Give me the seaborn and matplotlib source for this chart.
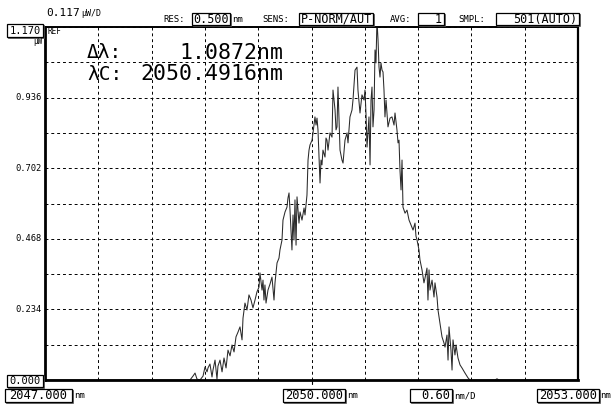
import numpy as np
import pandas as pd
import matplotlib
matplotlib.use("Agg")
import matplotlib.pyplot as plt
from matplotlib.patches import Rectangle
import seaborn as sns

# Sweep / display settings
wl_start, wl_center, wl_stop = 2047.000, 2050.000, 2053.000
span_per_div = 0.60
ref_level = 1.170
level_per_div = 0.117
y_label_values = ["1.170", "0.936", "0.702", "0.468", "0.234", "0.000"]

# Measured spectrum (nm, µW)
wavelength_nm = [
    2047.000, 2048.632, 2048.666, 2048.689, 2048.711, 2048.745, 2048.779, 2048.801, 2048.824, 2048.835,
    2048.857, 2048.880, 2048.891, 2048.914, 2048.936, 2048.947, 2048.970, 2048.993, 2049.015, 2049.038,
    2049.060, 2049.083, 2049.105, 2049.128, 2049.150, 2049.173, 2049.195, 2049.218, 2049.229, 2049.251,
    2049.274, 2049.296, 2049.319, 2049.341, 2049.364, 2049.386, 2049.409, 2049.420, 2049.443, 2049.454,
    2049.465, 2049.476, 2049.488, 2049.510, 2049.533, 2049.555, 2049.578, 2049.589, 2049.612, 2049.634,
    2049.645, 2049.668, 2049.679, 2049.702, 2049.724, 2049.735, 2049.747, 2049.758, 2049.780, 2049.792,
    2049.803, 2049.814, 2049.826, 2049.837, 2049.859, 2049.871, 2049.893, 2049.916, 2049.927, 2049.949,
    2049.961, 2049.972, 2049.983, 2050.006, 2050.017, 2050.039, 2050.051, 2050.062, 2050.073, 2050.096,
    2050.107, 2050.118, 2050.129, 2050.152, 2050.163, 2050.174, 2050.186, 2050.208, 2050.231, 2050.242,
    2050.265, 2050.276, 2050.287, 2050.298, 2050.321, 2050.343, 2050.355, 2050.377, 2050.400, 2050.411,
    2050.433, 2050.456, 2050.467, 2050.490, 2050.512, 2050.523, 2050.546, 2050.568, 2050.591, 2050.602,
    2050.614, 2050.625, 2050.647, 2050.659, 2050.670, 2050.681, 2050.692, 2050.704, 2050.715, 2050.726,
    2050.737, 2050.749, 2050.760, 2050.771, 2050.782, 2050.794, 2050.805, 2050.816, 2050.827, 2050.839,
    2050.861, 2050.884, 2050.906, 2050.929, 2050.940, 2050.962, 2050.974, 2050.985, 2050.996, 2051.008,
    2051.019, 2051.030, 2051.053, 2051.075, 2051.098, 2051.120, 2051.143, 2051.165, 2051.176, 2051.188,
    2051.210, 2051.221, 2051.244, 2051.266, 2051.278, 2051.300, 2051.311, 2051.323, 2051.334, 2051.357,
    2051.379, 2051.390, 2051.413, 2051.424, 2051.446, 2051.469, 2051.491, 2051.503, 2051.525, 2051.537,
    2051.548, 2051.570, 2051.582, 2051.593, 2051.615, 2051.627, 2051.649, 2051.672, 2051.694, 2051.728,
    2051.762, 2051.784, 2052.066, 2052.088, 2052.110, 2053.000,
]
power_uw = [
    0.000, 0.000, 0.013, 0.023, 0.003, 0.000, 0.013, 0.043, 0.027, 0.040,
    0.053, 0.010, 0.033, 0.066, 0.003, 0.046, 0.066, 0.027, 0.073, 0.040,
    0.099, 0.080, 0.116, 0.093, 0.143, 0.159, 0.176, 0.133, 0.205, 0.255,
    0.232, 0.282, 0.265, 0.239, 0.265, 0.292, 0.308, 0.355, 0.298, 0.331,
    0.265, 0.315, 0.255, 0.298, 0.318, 0.341, 0.265, 0.322, 0.388, 0.404,
    0.431, 0.464, 0.530, 0.557, 0.573, 0.603, 0.620, 0.563, 0.431, 0.547,
    0.464, 0.597, 0.447, 0.607, 0.520, 0.557, 0.530, 0.570, 0.547, 0.613,
    0.729, 0.762, 0.779, 0.795, 0.819, 0.872, 0.845, 0.868, 0.829, 0.653,
    0.729, 0.713, 0.762, 0.739, 0.802, 0.795, 0.762, 0.819, 0.805, 0.961,
    0.895, 0.829, 0.839, 0.971, 0.762, 0.729, 0.719, 0.795, 0.819, 0.786,
    0.872, 0.895, 0.928, 1.027, 1.037, 0.961, 0.885, 0.945, 0.928, 0.961,
    0.878, 0.772, 0.872, 0.713, 0.928, 0.971, 0.839, 0.895, 1.094, 1.051,
    1.193, 1.127, 1.037, 1.004, 1.051, 1.027, 1.021, 0.961, 0.872, 0.928,
    0.839, 0.868, 0.872, 0.845, 0.885, 0.829, 0.786, 0.795, 0.696, 0.630,
    0.729, 0.573, 0.553, 0.563, 0.530, 0.514, 0.497, 0.520, 0.477, 0.464,
    0.431, 0.398, 0.365, 0.322, 0.338, 0.371, 0.265, 0.365, 0.298, 0.331,
    0.275, 0.322, 0.275, 0.232, 0.189, 0.143, 0.123, 0.109, 0.149, 0.066,
    0.176, 0.099, 0.033, 0.133, 0.083, 0.116, 0.073, 0.050, 0.040, 0.023,
    0.007, 0.000, 0.000, 0.004, 0.000, 0.000,
]

# Analysis results
delta_lambda = "1.0872nm"
center_lambda = "2050.4916nm"

sns.set_style("white")
plt.rcParams["font.family"] = ["DejaVu Sans Mono", "DejaVu Sans"]

W, H = 612, 405
fig = plt.figure(figsize=(W / 100, H / 100), dpi=100)
fig.patch.set_facecolor("white")

L, R, T, B = 45, 578, 27, 380
ax = fig.add_axes([L / W, 1 - B / H, (R - L) / W, (B - T) / H])

df = pd.DataFrame({"wavelength": wavelength_nm, "power": power_uw})
sns.lineplot(data=df, x="wavelength", y="power", estimator=None, sort=False,
             color="#2a2a2a", linewidth=0.75, ax=ax)

ax.set_xlim(wl_start, wl_stop)
ax.set_ylim(0, ref_level)
ax.set_xticks(wl_start + np.arange(11) * span_per_div)
ax.set_yticks(np.arange(11) * level_per_div)
ax.grid(True, color="black", linestyle=(0, (3, 3)), linewidth=0.7)
ax.tick_params(length=0, labelbottom=False, labelleft=False)
ax.set_xlabel("")
ax.set_ylabel("")
for side, lw in {"left": 2.0, "bottom": 2.0, "right": 1.6, "top": 1.4}.items():
    ax.spines[side].set_visible(True)
    ax.spines[side].set_color("black")
    ax.spines[side].set_linewidth(lw)
ax.plot([0.5, 0.5], [-0.012, 0], transform=ax.transAxes, color="black",
        lw=0.8, clip_on=False)


def ftext(x, y, s, size, ha="left", va="center", **kw):
    fig.text(x / W, 1 - y / H, s, fontsize=size, ha=ha, va=va, color="black", **kw)


def fbox(x0, x1, y0, y1, shadow=True):
    if shadow:
        fig.patches.append(Rectangle(((x0 + 0.8) / W, 1 - (y1 + 0.8) / H), (x1 - x0) / W,
                                     (y1 - y0) / H, transform=fig.transFigure,
                                     facecolor="#555555", edgecolor="#555555", lw=0.5))
    fig.patches.append(Rectangle((x0 / W, 1 - y1 / H), (x1 - x0) / W, (y1 - y0) / H,
                                 transform=fig.transFigure, facecolor="white",
                                 edgecolor="black", lw=0.9))


# Header line
ftext(46, 13, "0.117", 8)
ftext(81, 14, "µW/D", 6)
ftext(163, 19, "RES:", 6.5)
fbox(192, 230, 13, 25)
ftext(211, 19.5, "0.500", 8.5, ha="center")
ftext(232, 19.5, "nm", 6.5)
ftext(262, 19, "SENS:", 6.5)
fbox(299, 373, 13, 25)
ftext(336, 19.5, "P-NORM/AUT", 8.5, ha="center")
ftext(390, 19, "AVG:", 6.5)
fbox(418, 444, 13, 25)
ftext(442, 19.5, "1", 8.5, ha="right")
ftext(458, 19, "SMPL:", 6.5)
fbox(496, 579, 13, 25)
ftext(577, 19.5, "501(AUTO)", 8.5, ha="right")

# Level scale on the left
fbox(7, 43, 24, 37)
ftext(41, 30.5, y_label_values[0], 7.5, ha="right")
ftext(42, 41, "µW", 5.5, ha="right")
ftext(48, 32, "REF", 5.5)
for i, lab in enumerate(y_label_values[1:-1], start=1):
    yy = T + i * 2 * (B - T) / 10
    ftext(42, yy, lab, 6.3, ha="right")
fbox(7, 43, 375, 387)
ftext(41, 381, y_label_values[-1], 7.5, ha="right")

# Wavelength scale along the bottom
fbox(5, 72, 389, 402)
ftext(38.5, 395.5, f"{wl_start:.3f}", 8.7, ha="center")
ftext(74, 396, "nm", 6.5)
fbox(283, 345, 389, 402)
ftext(314, 395.5, f"{wl_center:.3f}", 8.7, ha="center")
ftext(347, 396, "nm", 6.5)
fbox(410, 452, 389, 402)
ftext(450, 395.5, f"{span_per_div:.2f}", 8.7, ha="right")
ftext(454, 396, "nm/D", 6.5)
fbox(537, 599, 389, 402)
ftext(568, 395.5, f"{wl_stop:.3f}", 8.7, ha="center")
ftext(600, 396, "nm", 6.5)

# Spectral width / centre readout
ftext(87, 53, "Δλ:", 14)
ftext(283, 53, delta_lambda, 15.5, ha="right")
ftext(87, 74, "λC:", 14)
ftext(283, 74, center_lambda, 15.5, ha="right")

fig.savefig("out.png", dpi=100, facecolor="white")
